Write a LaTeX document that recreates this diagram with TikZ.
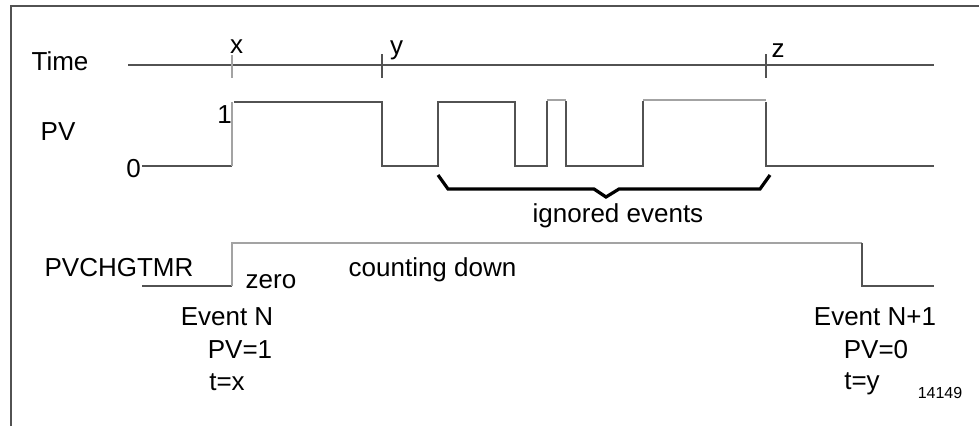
\documentclass[tikz,border=0pt]{standalone}
\usepackage{fontspec}
\setmainfont{Liberation Sans}
\begin{document}
\begin{tikzpicture}[x=1pt,y=-1pt,
  lbl/.style={inner sep=0pt,anchor=base,font=\fontsize{26}{30}\selectfont,text=black},
  small/.style={inner sep=0pt,anchor=base,font=\fontsize{16}{19}\selectfont,text=black},
  dark/.style={draw=black!68,line width=1.1pt},
  light/.style={draw=black!36,line width=1.3pt},
  brace/.style={draw=black,line width=3.2pt,line join=miter}]
\useasboundingbox (0,0) rectangle (979,426);

% frame edges
\draw[dark] (11,426) -- (11,6) -- (979,6);

% time axis with the three markers
\coordinate (tx) at (232,65);
\coordinate (ty) at (382,65);
\coordinate (tz) at (766,65);
\draw[dark] (128,65) -- (934,65);
\draw[light] (232,55) -- (232,78);
\draw[dark] (382,54) -- (382,78);
\draw[dark] (766,54) -- (766,78);
\node[lbl] (time) at (60,70) {Time};
\node[lbl] (lx) at (236.5,53) {x};
\node[lbl] (ly) at (396.5,54) {y};
\node[lbl] (lz) at (778,57) {z};

% PV trace
\node[lbl] (pv) at (58,140) {PV};
\node[lbl,anchor=base east] (one) at (232,123) {1};
\node[lbl] (zero0) at (133.5,177) {0};
\draw[dark] (142,166) -- (232,166);
\draw[light] (232,166) -- (232,102);
\draw[dark] (234,102) -- (382,102) -- (382,166) -- (438,166) -- (438,102)
  -- (515,102) -- (515,166) -- (547,166) -- (547,101);
\draw[light] (547,100) -- (566,100);
\draw[dark] (566,101) -- (566,166) -- (643,166) -- (643,101);
\draw[light] (643,100) -- (766,100);
\draw[dark] (766,102) -- (766,166) -- (934,166);

% brace under the ignored pulses
\draw[brace] (438,175) -- (448,189) -- (594,189) -- (606,197) -- (619,189)
  -- (760,189) -- (770,175);
\node[lbl] (ign) at (618,222) {ignored events};

% PVCHGTMR trace
\node[lbl] (tmr) at (119,276) {PVCHGTMR};
\draw[dark] (142,286) -- (232,286);
\draw[light] (232,286) -- (232,243) -- (862,243);
\draw[dark] (862,243) -- (862,286) -- (934,286);
\node[lbl] (zr) at (271,288) {zero};
\node[lbl] (cd) at (432.5,276) {counting down};

% event annotations
\node[lbl] (evn) at (227,325) {Event N};
\node[lbl] (pv1) at (240,358) {PV=1};
\node[lbl] (tx1) at (227,390) {t=x};
\node[lbl] (evn1) at (875,325) {Event N+1};
\node[lbl] (pv0) at (876,358) {PV=0};
\node[lbl] (ty1) at (862,389) {t=y};
\node[small] (fig) at (940,398) {14149};
\end{tikzpicture}
\end{document}
